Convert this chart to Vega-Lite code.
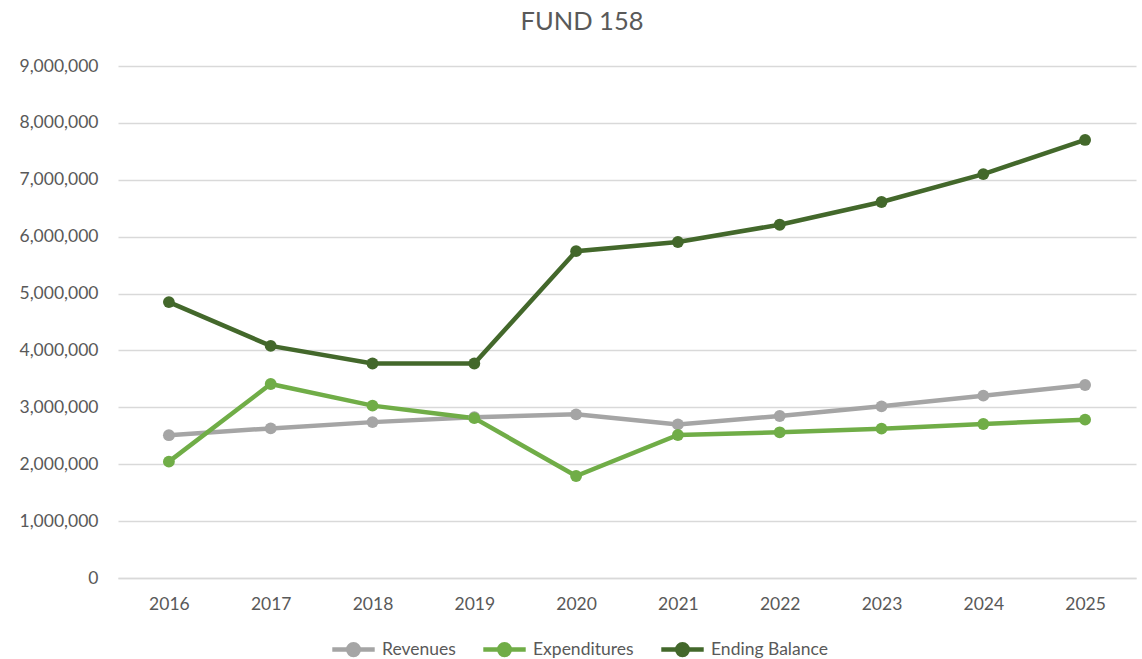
{
  "$schema": "https://vega.github.io/schema/vega-lite/v6.json",
  "autosize": "none",
  "width": 1018,
  "height": 512,
  "padding": {"left": 118, "top": 66, "right": 6, "bottom": 81},
  "background": "white",
  "title": {
    "text": "FUND 158",
    "fontSize": 25.5,
    "font": "Lato",
    "fontWeight": "normal",
    "color": "#595959",
    "anchor": "middle",
    "dx": -45,
    "offset": 22
  },
  "config": {
    "view": {"stroke": null},
    "font": "Lato"
  },
  "data": {
    "values": [
      {"year": "2016", "series": "Revenues", "value": 2510000},
      {"year": "2017", "series": "Revenues", "value": 2630000},
      {"year": "2018", "series": "Revenues", "value": 2740000},
      {"year": "2019", "series": "Revenues", "value": 2825000},
      {"year": "2020", "series": "Revenues", "value": 2877000},
      {"year": "2021", "series": "Revenues", "value": 2700000},
      {"year": "2022", "series": "Revenues", "value": 2848000},
      {"year": "2023", "series": "Revenues", "value": 3018000},
      {"year": "2024", "series": "Revenues", "value": 3205000},
      {"year": "2025", "series": "Revenues", "value": 3393000},
      {"year": "2016", "series": "Expenditures", "value": 2045000},
      {"year": "2017", "series": "Expenditures", "value": 3410000},
      {"year": "2018", "series": "Expenditures", "value": 3030000},
      {"year": "2019", "series": "Expenditures", "value": 2810000},
      {"year": "2020", "series": "Expenditures", "value": 1793000},
      {"year": "2021", "series": "Expenditures", "value": 2514000},
      {"year": "2022", "series": "Expenditures", "value": 2561000},
      {"year": "2023", "series": "Expenditures", "value": 2625000},
      {"year": "2024", "series": "Expenditures", "value": 2707000},
      {"year": "2025", "series": "Expenditures", "value": 2783000},
      {"year": "2016", "series": "Ending Balance", "value": 4850000},
      {"year": "2017", "series": "Ending Balance", "value": 4080000},
      {"year": "2018", "series": "Ending Balance", "value": 3770000},
      {"year": "2019", "series": "Ending Balance", "value": 3770000},
      {"year": "2020", "series": "Ending Balance", "value": 5745000},
      {"year": "2021", "series": "Ending Balance", "value": 5906000},
      {"year": "2022", "series": "Ending Balance", "value": 6210000},
      {"year": "2023", "series": "Ending Balance", "value": 6610000},
      {"year": "2024", "series": "Ending Balance", "value": 7100000},
      {"year": "2025", "series": "Ending Balance", "value": 7700000}
    ]
  },
  "mark": {"type": "line", "strokeWidth": 4.5, "point": {"size": 140, "filled": true, "opacity": 1}},
  "encoding": {
    "x": {
      "field": "year",
      "type": "ordinal",
      "scale": {"padding": 0.5},
      "axis": {
        "title": null,
        "labelAngle": 0,
        "ticks": false,
        "domain": true,
        "domainColor": "#D9D9D9",
        "domainWidth": 1.3,
        "labelPadding": 17,
        "labelFontSize": 17.5,
        "labelColor": "#595959",
        "labelFont": "Lato"
      }
    },
    "y": {
      "field": "value",
      "type": "quantitative",
      "scale": {"domain": [0, 9000000], "nice": false},
      "axis": {
        "title": null,
        "values": [0, 1000000, 2000000, 3000000, 4000000, 5000000, 6000000, 7000000, 8000000, 9000000],
        "format": ",d",
        "labelOverlap": false,
        "ticks": false,
        "domain": false,
        "gridColor": "#D9D9D9",
        "gridWidth": 1.3,
        "labelPadding": 20,
        "labelFontSize": 17.5,
        "labelColor": "#595959",
        "labelFont": "Lato"
      }
    },
    "color": {
      "field": "series",
      "type": "nominal",
      "scale": {
        "domain": ["Revenues", "Expenditures", "Ending Balance"],
        "range": ["#A5A5A5", "#70AD47", "#43682B"]
      },
      "legend": {
        "title": null,
        "orient": "none",
        "direction": "horizontal",
        "legendX": 212,
        "legendY": 560,
        "symbolType": "M-1,0H1M-0.25,0A0.25,0.25 0 1,1 0.25,0A0.25,0.25 0 1,1 -0.25,0Z",
        "symbolSize": 1800,
        "symbolStrokeWidth": 4.5,
        "symbolOpacity": 1,
        "labelFontSize": 17.5,
        "labelColor": "#595959",
        "labelFont": "Lato",
        "labelOffset": 5,
        "columnPadding": 18
      }
    }
  }
}
